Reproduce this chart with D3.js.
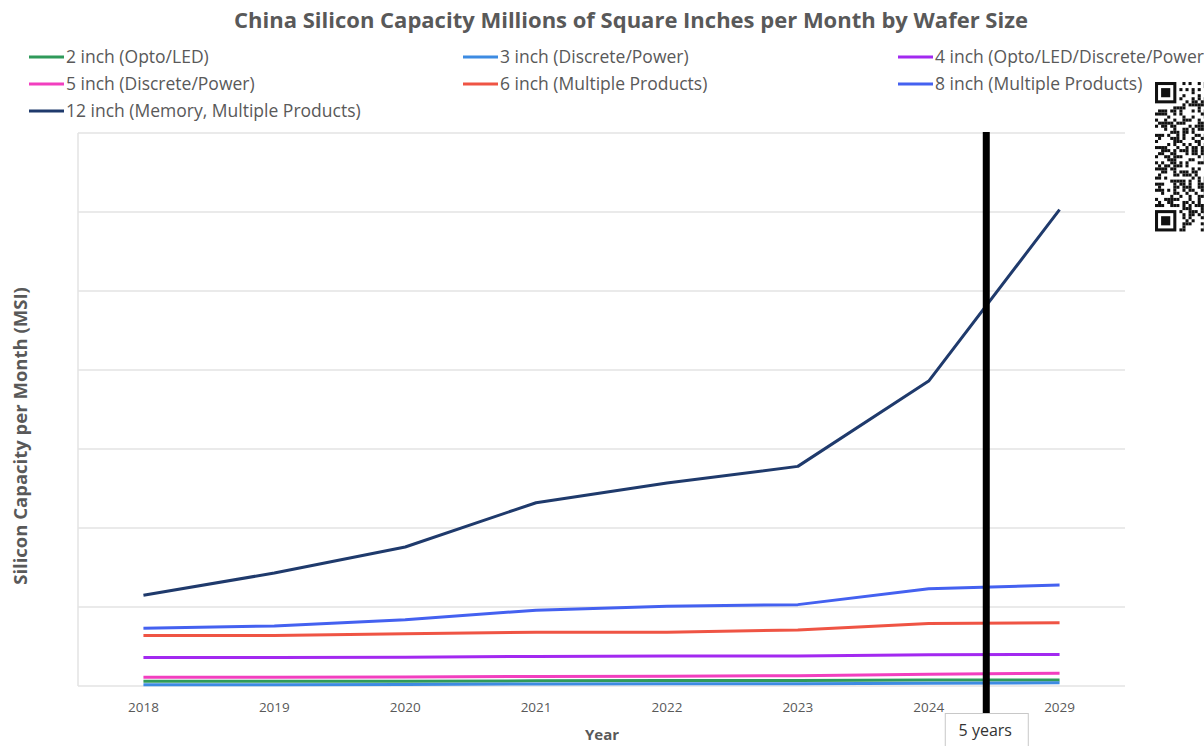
<!DOCTYPE html>
<html>
<head>
<meta charset="utf-8">
<script src="https://cdn.jsdelivr.net/npm/d3@7"></script>
<style>
  html, body { margin: 0; padding: 0; background: #fff; }
  svg { display: block; font-family: "Open Sans", "Noto Sans", sans-serif; }
</style>
</head>
<body>
<svg id="chart" width="1204" height="746"></svg>
<script>
// Years on the category axis
const years = ["2018", "2019", "2020", "2021", "2022", "2023", "2024", "2029"];

// Monthly silicon capacity (MSI) per wafer size
const cap2in  = [6, 6, 6, 6.5, 7, 7, 7.5, 7.5];
const cap3in  = [1.5, 1.5, 2, 2.5, 3, 3, 3.5, 4];
const cap4in  = [36, 36, 36.5, 37.5, 38, 38, 39.5, 40];
const cap5in  = [11, 11, 11.5, 12, 12.5, 13, 15, 16];
const cap6in  = [64, 64, 66, 68, 68, 71, 79, 80];
const cap8in  = [73, 76, 84, 96, 101, 103, 123, 128];
const cap12in = [115, 143, 176, 232, 257, 278, 386, 603];

const seriesNames = [
  "2 inch (Opto/LED)",
  "3 inch (Discrete/Power)",
  "4 inch (Opto/LED/Discrete/Power)",
  "5 inch (Discrete/Power)",
  "6 inch (Multiple Products)",
  "8 inch (Multiple Products)",
  "12 inch (Memory, Multiple Products)"
];
const seriesColors = ["#2f9a5a", "#3d8be2", "#a229f0", "#f23fbf", "#ef5444", "#4461f0", "#1f3a6c"];

// Gridline values (no tick labels are shown on the value axis)
const yTicks = [0, 100, 200, 300, 400, 500, 600, 700];
const markerLabel = "5 years";

const series = [cap2in, cap3in, cap4in, cap5in, cap6in, cap8in, cap12in]
  .map((vals, i) => ({ name: seriesNames[i], color: seriesColors[i], values: vals }));

const svg = d3.select("#chart");
const margin = { left: 78, right: 79, top: 133 };
const W = 1204;
const plotW = W - margin.left - margin.right;

const x = d3.scaleBand().domain(years).range([margin.left, margin.left + plotW]).padding(0);
const y = d3.scaleLinear().domain([0, 700]).range([686, 133]);
const cx = d => x(d) + x.bandwidth() / 2;

const textGray = "#595959";
const gridGray = "#e3e3e3";

// Title
svg.append("text")
  .attr("x", 631).attr("y", 28)
  .attr("text-anchor", "middle")
  .attr("font-size", 22).attr("font-weight", 700)
  .attr("fill", textGray)
  .text("China Silicon Capacity Millions of Square Inches per Month by Wafer Size");

// Legend: three columns, row-major order
const legendCols = [29, 463, 898];
const legendRows = [57, 84, 111];
series.forEach((s, i) => {
  const lx = legendCols[i % 3], ly = legendRows[Math.floor(i / 3)];
  const g = svg.append("g").attr("transform", `translate(${lx},${ly})`);
  g.append("line").attr("x1", 0).attr("x2", 35).attr("y1", 0).attr("y2", 0)
    .attr("stroke", s.color).attr("stroke-width", 3);
  g.append("text").attr("x", 37).attr("y", 6)
    .attr("font-size", 17.5).attr("fill", textGray).text(s.name);
});

// Horizontal gridlines
svg.append("g")
  .selectAll("line")
  .data(yTicks)
  .join("line")
  .attr("x1", margin.left).attr("x2", margin.left + plotW)
  .attr("y1", d => y(d)).attr("y2", d => y(d))
  .attr("stroke", gridGray).attr("stroke-width", 1.5);

// Left edge of the plot area
svg.append("line")
  .attr("x1", margin.left).attr("x2", margin.left)
  .attr("y1", y(700)).attr("y2", y(0))
  .attr("stroke", gridGray).attr("stroke-width", 1.5);

// Category axis labels
const xAxis = d3.axisBottom(x).tickSize(0).tickPadding(16);
const xg = svg.append("g").attr("transform", `translate(0,${y(0)})`).call(xAxis);
xg.select(".domain").remove();
xg.selectAll("text").attr("font-size", 13.5).attr("fill", textGray)
  .attr("font-family", "'Open Sans', sans-serif");

// Axis titles
svg.append("text")
  .attr("x", 602).attr("y", 740)
  .attr("text-anchor", "middle")
  .attr("font-size", 15).attr("font-weight", 700).attr("fill", textGray)
  .text("Year");

svg.append("text")
  .attr("transform", "translate(27,436) rotate(-90)")
  .attr("text-anchor", "middle")
  .attr("font-size", 18.5).attr("font-weight", 700).attr("fill", textGray)
  .text("Silicon Capacity per Month (MSI)");

// Series lines
const line = d3.line()
  .x((d, i) => cx(years[i]))
  .y(d => y(d));

svg.append("g")
  .selectAll("path")
  .data(series)
  .join("path")
  .attr("d", d => line(d.values))
  .attr("fill", "none")
  .attr("stroke", d => d.color)
  .attr("stroke-width", 3)
  .attr("stroke-linejoin", "round");

// Five-year marker between 2024 and 2029
const markerX = cx("2024") + x.step() * 0.44;
svg.append("line")
  .attr("x1", markerX).attr("x2", markerX)
  .attr("y1", 132).attr("y2", 715)
  .attr("stroke", "#000").attr("stroke-width", 7);

svg.append("rect")
  .attr("x", markerX - 41).attr("y", 713.5)
  .attr("width", 83).attr("height", 40)
  .attr("fill", "#fff").attr("stroke", "#c8c8c8").attr("stroke-width", 1);
svg.append("text")
  .attr("x", markerX - 1).attr("y", 736)
  .attr("text-anchor", "middle")
  .attr("font-size", 16).attr("fill", "#333")
  .text(markerLabel);

// QR code badge at the right edge (partially cut off)
const qr = svg.append("g").attr("transform", "translate(1155,82)");
const mod = 3.05;
const finder = (gx, gy) => {
  qr.append("rect").attr("x", gx).attr("y", gy).attr("width", 7 * mod).attr("height", 7 * mod).attr("fill", "#111");
  qr.append("rect").attr("x", gx + mod).attr("y", gy + mod).attr("width", 5 * mod).attr("height", 5 * mod).attr("fill", "#fff");
  qr.append("rect").attr("x", gx + 2 * mod).attr("y", gy + 2 * mod).attr("width", 3 * mod).attr("height", 3 * mod).attr("fill", "#111");
};
const nMod = 49;
const cells = [];
for (let r = 0; r < nMod; r++) {
  for (let c = 0; c < 17; c++) {
    const inTopFinder = r < 8 && c < 8;
    const inBotFinder = r > nMod - 9 && c < 8;
    if (inTopFinder || inBotFinder) continue;
    // deterministic module pattern
    const h = ((r * 73856093) ^ (c * 19349663) ^ (r * c * 83492791)) >>> 0;
    if ((h % 7) < 3 || (c === 6 && r % 2 === 0)) cells.push([r, c]);
  }
}
qr.selectAll("rect.m").data(cells).join("rect").attr("class", "m")
  .attr("x", d => d[1] * mod).attr("y", d => d[0] * mod)
  .attr("width", mod).attr("height", mod).attr("fill", "#111");
finder(0, 0);
finder(0, (nMod - 7) * mod);
</script>
</body>
</html>
